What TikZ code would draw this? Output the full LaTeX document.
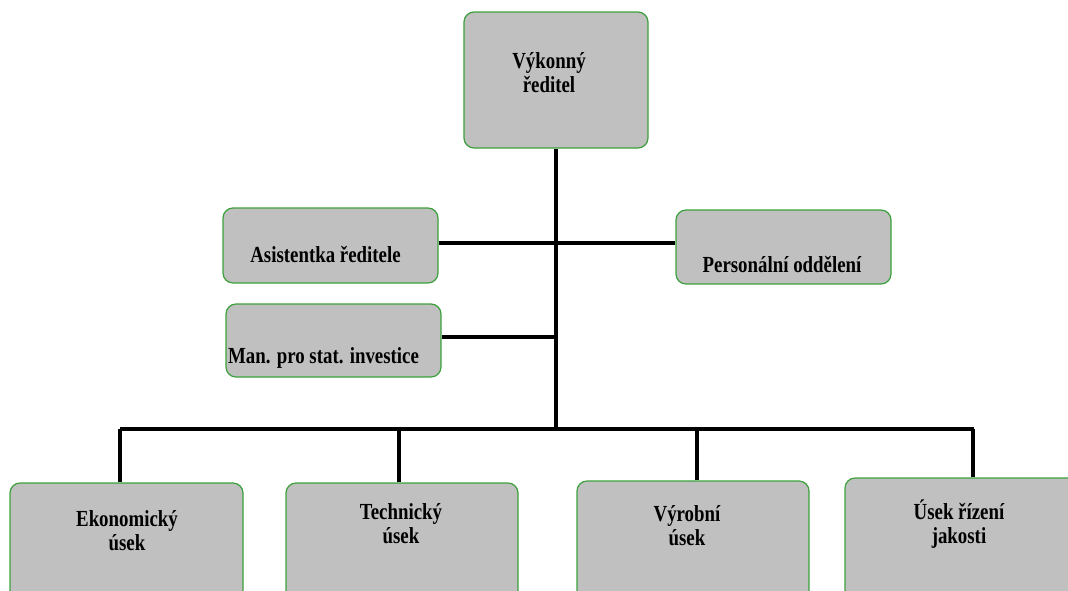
\documentclass[tikz,border=0pt]{standalone}
\usepackage{fontspec}
\setmainfont[FakeStretch=0.82]{Liberation Serif}

\definecolor{boxgray}{RGB}{192,192,192}
\definecolor{boxgreen}{RGB}{60,160,60}

\tikzset{
  unit/.style={draw=boxgreen, line width=1.2pt, fill=boxgray, rounded corners=10pt, inner sep=0pt},
  caption/.style={font=\fontsize{23}{24}\selectfont\bfseries, inner sep=0pt, align=center},
  conn/.style={line width=4pt}
}

\begin{document}
\begin{tikzpicture}[x=1pt,y=-1pt]
  \useasboundingbox (0,0) rectangle (1068,590);
  \clip (0,0) rectangle (1068,590);

  % Executive director
  \node[unit, minimum width=184pt, minimum height=136pt] (ceo) at (556,80) {};
  \node[caption, anchor=base] (ceotext) at (549,92) {Výkonný\\ředitel};

  % Staff units
  \node[unit, minimum width=215pt, minimum height=75pt] (asst) at (330.5,245.5) {};
  \node[caption, anchor=base] (assttext) at (325.5,262) {Asistentka ředitele};

  \node[unit, minimum width=215pt, minimum height=74pt] (pers) at (783.5,247) {};
  \node[caption, anchor=base] (perstext) at (782,272) {Personální oddělení};

  \node[unit, minimum width=215pt, minimum height=73pt] (man) at (333.5,340.5) {};
  \node[caption, anchor=base] (mantext) at (323.5,363) {Man. pro stat. investice};

  % Divisions
  \node[unit, minimum width=233pt, minimum height=127pt] (eko) at (126.5,546.5) {};
  \node[caption, anchor=base] (ekotext) at (127,550) {Ekonomický\\úsek};

  \node[unit, minimum width=232pt, minimum height=127pt] (tech) at (402,546.5) {};
  \node[caption, anchor=base] (techtext) at (401,543) {Technický\\úsek};

  \node[unit, minimum width=232pt, minimum height=129pt] (vyr) at (693,545.5) {};
  \node[caption, anchor=base] (vyrtext) at (687,545) {Výrobní\\úsek};

  \node[unit, minimum width=255pt, minimum height=132pt] (qual) at (972.5,544) {};
  \node[caption, anchor=base] (qualtext) at (959,543) {Úsek řízení\\jakosti};

  % Connectors
  \coordinate (bus) at (554,429);
  \draw[conn] (ceo.south) -- (ceo.south |- bus);
  \draw[conn] ([yshift=2.5pt]asst.east) -- ([yshift=2.5pt]asst.east -| pers.west);
  \draw[conn] ([yshift=3.5pt]man.east) -- ([yshift=3.5pt]man.east -| ceo.south);
  \draw[conn] ([xshift=-7pt]eko.north |- bus) -- ([xshift=1pt]qual.north |- bus);
  \foreach \b/\dx in {eko/-7,tech/-3,vyr/4,qual/0}
    \draw[conn] ([xshift=\dx pt]\b.north) -- ([xshift=\dx pt]\b.north |- bus);
\end{tikzpicture}
\end{document}
